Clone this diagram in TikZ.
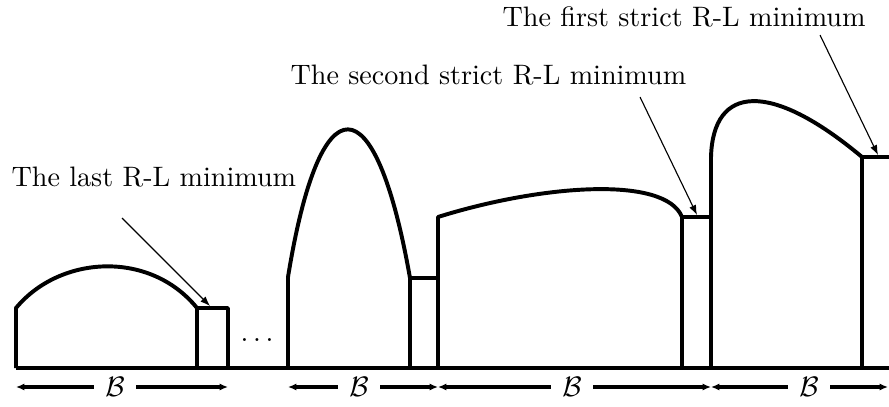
\documentclass[tikz,border=0pt]{standalone}
\usetikzlibrary{positioning, arrows.meta}

\begin{document}
\begin{tikzpicture}[x=0.0125cm, y=-0.0125cm]
	\tikzset{
		bar/.style={line width=1.4pt, line join=round},
		span/.style={line width=1.1pt, -{Latex[length=3pt, width=2.6pt]}},
		callout/.style={line width=0.4pt, -{Latex[length=3.5pt, width=2.6pt]}},
		lbl/.style={anchor=base west, inner sep=0pt},
		blabel/.style={inner sep=4pt}
	}
	\useasboundingbox (0,0) rectangle (889,407);
	% the blocks
	\draw[bar] (16,368) -- (889,368);
	\draw[bar] (16,368) -- (16,308) .. controls (60,255) and (150,250) .. (197,308) -- (228,308) -- (228,368);
	\draw[bar] (197,308) -- (197,368);
	\draw[bar] (288,368) -- (288,277) .. controls (320,80) and (375,80) .. (410,278) -- (438,278);
	\draw[bar] (410,278) -- (410,368);
	\draw[bar] (438,368) -- (438,217) .. controls (540,185) and (665,175) .. (682,217) -- (711,217);
	\draw[bar] (682,217) -- (682,368);
	\draw[bar] (711,368) -- (711,157) .. controls (713,85) and (770,80) .. (862,157) -- (895,157);
	\draw[bar] (862,157) -- (862,368);
	\node[anchor=base] (dots) at (257,341) {$\ldots$};
	% labels and callouts
	\node[lbl] (lastlbl) at (11,187) {The last R-L minimum};
	\node[lbl] (secondlbl) at (290,85) {The second strict R-L minimum};
	\node[lbl] (firstlbl) at (502,27) {The first strict R-L minimum};
	\coordinate (lastfrom) at (122,218);
	\coordinate (lastmin) at (210,306);
	\coordinate (secondfrom) at (640,97);
	\coordinate (secondmin) at (697,215);
	\coordinate (firstfrom) at (820,35);
	\coordinate (firstmin) at (878,155);
	\draw[callout] (lastfrom) -- (lastmin);
	\draw[callout] (secondfrom) -- (secondmin);
	\draw[callout] (firstfrom) -- (firstmin);
	% the spans
	\foreach \n/\a/\m/\b in {1/16/115/228, 2/288/359/438, 3/438/572/711, 4/711/809/888} {
		\coordinate (bL\n) at (\a,387);
		\coordinate (bR\n) at (\b,387);
		\node[blabel] (bB\n) at (\m,387) {$\mathcal{B}$};
		\draw[span] (bB\n) -- (bL\n);
		\draw[span] (bB\n) -- (bR\n);
	}
\end{tikzpicture}
\end{document}
